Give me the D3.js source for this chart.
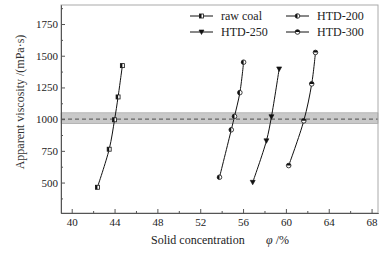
<!DOCTYPE html>
<html>
<head>
<meta charset="utf-8">
<script src="https://cdn.jsdelivr.net/npm/d3@7"></script>
<style>
  body { margin: 0; background: #fff; }
  svg { display: block; font-family: "Liberation Serif", "DejaVu Serif", serif; }
</style>
</head>
<body>
<script>
// series data
var rawX = [42.4, 43.5, 44.0, 44.33, 44.73];
var rawY = [463, 763, 995, 1175, 1422];
var h200X = [53.8, 54.9, 55.2, 55.7, 56.05];
var h200Y = [542, 916, 1022, 1209, 1449];
var h250X = [56.9, 58.18, 58.65, 59.37];
var h250Y = [502, 829, 1019, 1396];
var h300X = [60.26, 61.67, 62.41, 62.76];
var h300Y = [634, 987, 1278, 1526];

var xTicks = [40, 44, 48, 52, 56, 60, 64, 68];
var yTicks = [500, 750, 1000, 1250, 1500, 1750];
var bandLow = 965, bandHigh = 1050, refLine = 1000;

var seriesNames = ["raw coal", "HTD-200", "HTD-250", "HTD-300"];

var W = 389, H = 253;
var margin = {top: 5, right: 11, bottom: 40, left: 61};
var w = W - margin.left - margin.right;
var h = H - margin.top - margin.bottom;

var svg = d3.select("body").append("svg")
    .attr("width", W)
    .attr("height", H);

var g = svg.append("g")
    .attr("transform", "translate(" + margin.left + "," + margin.top + ")");

var x = d3.scaleLinear().domain([39, 68.6]).range([0, w]);
var y = d3.scaleLinear().domain([260, 1900]).range([h, 0]);

// grey tolerance band and dashed reference
g.append("rect")
    .attr("x", 0)
    .attr("width", w)
    .attr("y", y(bandHigh))
    .attr("height", y(bandLow) - y(bandHigh))
    .attr("fill", "#c9c9c9")
    .attr("stroke", "#9a9a9a")
    .attr("stroke-width", 0.6);
g.append("line")
    .attr("x1", 0).attr("x2", w)
    .attr("y1", y(refLine)).attr("y2", y(refLine))
    .attr("stroke", "#666")
    .attr("stroke-width", 1.3)
    .attr("stroke-dasharray", "4,3");

// frame
g.append("rect")
    .attr("width", w).attr("height", h)
    .attr("fill", "none")
    .attr("stroke", "#aaa")
    .attr("stroke-width", 1);

// axes with inward ticks
var xAxis = d3.axisBottom(x).tickValues(xTicks).tickSizeInner(-4).tickSizeOuter(0).tickPadding(5).tickFormat(d3.format("d"));
var xMinor = d3.axisBottom(x).tickValues(d3.range(42, 68, 4)).tickSizeInner(-2).tickSizeOuter(0).tickFormat("");
var yAxis = d3.axisLeft(y).tickValues(yTicks).tickSizeInner(-4).tickSizeOuter(0).tickPadding(3).tickFormat(d3.format("d"));
var yMinor = d3.axisLeft(y).tickValues(d3.range(375, 1900, 250)).tickSizeInner(-2).tickSizeOuter(0).tickFormat("");

function styleAxis(sel) {
  sel.attr("font-family", null);
  sel.select(".domain").attr("stroke", "#555");
  sel.selectAll(".tick line").attr("stroke", "#555");
  sel.selectAll("text").attr("fill", "#222").style("font-size", "11px")
    .style("font-family", "'Liberation Serif', serif");
}

g.append("g").attr("transform", "translate(0," + h + ")").call(xAxis).call(styleAxis);
g.append("g").attr("transform", "translate(0," + h + ")").call(xMinor).call(styleAxis);
g.append("g").call(yAxis).call(styleAxis);
g.append("g").call(yMinor).call(styleAxis);

// axis titles
svg.append("text")
    .attr("transform", "translate(24," + (margin.top + 97) + ") rotate(-90)")
    .attr("text-anchor", "middle")
    .attr("fill", "#333")
    .style("font-size", "12px")
    .text("Apparent viscosity /(mPa·s)");

var xt = svg.append("text")
    .attr("x", 151).attr("y", 244)
    .attr("fill", "#222")
    .style("font-size", "12px");
xt.append("tspan").text("Solid concentration");
xt.append("tspan").attr("x", 266).style("font-style", "italic").text("φ");
xt.append("tspan").text(" /%");

// markers
function marker(sel, type) {
  if (type === 0) {
    sel.append("rect").attr("x", -2).attr("y", -2).attr("width", 4).attr("height", 4)
      .attr("fill", "#fff").attr("stroke", "#111").attr("stroke-width", 0.8);
    sel.append("rect").attr("x", -2).attr("y", -2).attr("width", 2).attr("height", 4)
      .attr("fill", "#111");
  } else if (type === 1) {
    sel.append("circle").attr("r", 2.3).attr("fill", "#fff").attr("stroke", "#111").attr("stroke-width", 0.8);
    sel.append("path").attr("d", d3.arc()({innerRadius: 0, outerRadius: 2.3, startAngle: Math.PI, endAngle: 2 * Math.PI}))
      .attr("fill", "#111");
  } else if (type === 2) {
    sel.append("path").attr("d", "M-2.5,-2L2.5,-2L0,2.5Z")
      .attr("fill", "#111").attr("stroke", "#111").attr("stroke-width", 0.6);
  } else {
    sel.append("circle").attr("r", 2.3).attr("fill", "#fff").attr("stroke", "#111").attr("stroke-width", 0.8);
    sel.append("path").attr("d", d3.arc()({innerRadius: 0, outerRadius: 2.3, startAngle: -Math.PI / 2, endAngle: Math.PI / 2}))
      .attr("fill", "#111");
  }
}

var series = [
  {xs: rawX, ys: rawY},
  {xs: h200X, ys: h200Y},
  {xs: h250X, ys: h250Y},
  {xs: h300X, ys: h300Y}
];

var line = d3.line()
    .x(function(d) { return x(d[0]); })
    .y(function(d) { return y(d[1]); })
    .curve(d3.curveCatmullRom);

series.forEach(function(s, i) {
  var pts = s.xs.map(function(v, j) { return [v, s.ys[j]]; });
  g.append("path")
    .datum(pts)
    .attr("d", line)
    .attr("fill", "none")
    .attr("stroke", "#111")
    .attr("stroke-width", 1);
  g.selectAll(".m" + i)
    .data(pts)
    .enter()
    .append("g")
    .attr("transform", function(d) { return "translate(" + x(d[0]) + "," + y(d[1]) + ")"; })
    .each(function() { marker(d3.select(this), i); });
});

// legend
var legPos = [[190, 16], [286, 16], [190, 32], [286, 32]];
seriesNames.forEach(function(name, i) {
  var lg = svg.append("g").attr("transform", "translate(" + legPos[i][0] + "," + legPos[i][1] + ")");
  lg.append("line").attr("x1", 0).attr("x2", 23).attr("y1", 0).attr("y2", 0)
    .attr("stroke", "#111").attr("stroke-width", 1);
  var mk = lg.append("g").attr("transform", "translate(11.5,0)");
  marker(mk, i);
  lg.append("text").attr("x", 31).attr("y", 4)
    .attr("fill", "#222")
    .style("font-size", "12px")
    .text(name);
});
</script>
</body>
</html>
